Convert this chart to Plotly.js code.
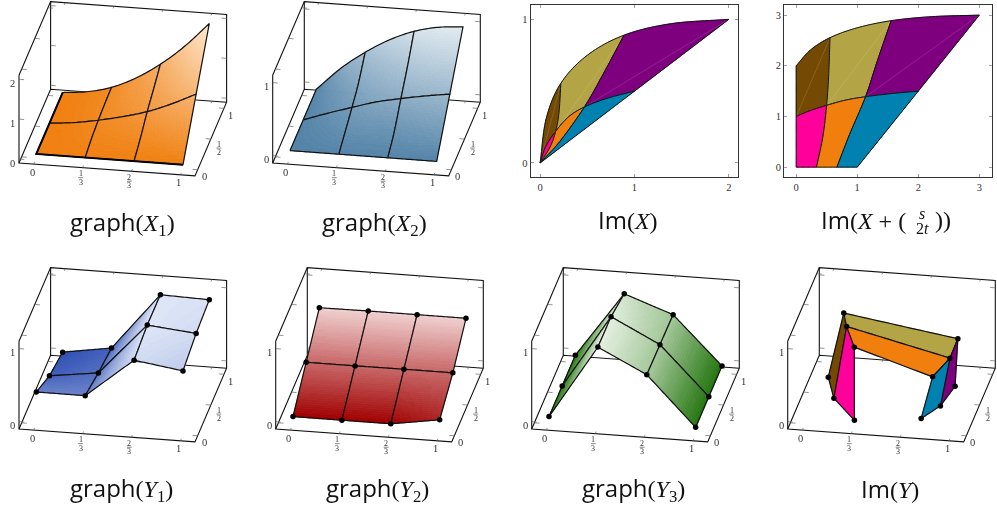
<!DOCTYPE html>
<html>
<head>
<meta charset="utf-8">
<script src="https://cdn.plot.ly/plotly-3.0.1.min.js"></script>
<style>
html, body { margin: 0; background: #fff; }
#chart { width: 997px; height: 506px; }
.annotation, .xtick, .ytick { filter: grayscale(1); }
</style>
</head>
<body>
<div id="chart"></div>
<script>
// grid lines drawn on every patch
const meshS = [0, 1/3, 2/3, 1];
const meshT = [0, 1/2, 1];

// X, rows are t, columns are s
const tableS = [0, 1/6, 1/3, 1/2, 2/3, 5/6, 1];
const tableT = [0, 1/4, 1/2, 3/4, 1];
const x1Rows = [
  [0, 0, 0, 0, 0, 0, 0],
  [0, 0.04, 0.105, 0.15, 0.21, 0.33, 0.5],
  [0, 0.06, 0.165, 0.3, 0.47, 0.71, 1],
  [0, 0.07, 0.2, 0.44, 0.67, 1.05, 1.5],
  [0, 0.065, 0.22, 0.5, 0.89, 1.39, 2],
];
const x2Rows = [
  [0, 0, 0, 0, 0, 0, 0],
  [0, 0.05, 0.11, 0.14, 0.15, 0.2, 0.25],
  [0, 0.115, 0.22, 0.32, 0.39, 0.45, 0.5],
  [0, 0.17, 0.35, 0.5, 0.62, 0.72, 0.75],
  [0, 0.31, 0.555, 0.75, 0.89, 0.97, 1],
];

// Y at the marked nodes
const y1Rows = [
  [0.337, 0.336, 0.87, 0.773],
  [0.139, 0.226, 0.93, 0.865],
  [0.042, 0.147, 0.925, 0.906],
];
const y2Rows = [
  [0, 0, 0, 0.104],
  [0.323, 0.323, 0.326, 0.326],
  [0.65, 0.654, 0.653, 0.653],
];
const y3Rows = [
  [0, 1, 0.672, 0],
  [0, 0.995, 0.663, 0],
  [0, 0.889, 0.653, 0],
];

// patch colours, row t<1/2 then t>1/2
const imageColors = [
  ["#ff009a", "#f17f0d", "#0081b0"],
  ["#744a03", "#b3a445", "#7f007f"],
];

const PAGE_W = 997, PAGE_H = 506;
const PANEL_W = 228, PANEL_H = 183;
const ORIGIN = [19, 163];
const BOX_X = [176, 12.9], BOX_Y = [31.6, -73.7], BOX_Z = 87.7;
const BAND_COUNT = 64, TILES = 24;
const INK = "#111", TICK_INK = "#666", LABEL_INK = "#333";
const SERIF = "Liberation Serif";

const traces = [], annotations = [], shapes = [], axes = {};

function locate(axis, v) {
  let i = 0;
  while (i < axis.length - 2 && v > axis[i + 1]) i++;
  return [i, (v - axis[i]) / (axis[i + 1] - axis[i])];
}

function catmull(a, b, c, d, u) {
  return 0.5 * (2 * b + (c - a) * u + (2 * a - 5 * b + 4 * c - d) * u * u + (3 * b - a - 3 * c + d) * u * u * u);
}

function pick(list, i) {
  if (i < 0) return 2 * list[0] - list[1];
  if (i >= list.length) return 2 * list[list.length - 1] - list[list.length - 2];
  return list[i];
}

function smooth(rows) {
  return (s, t) => {
    const [i, u] = locate(tableS, s);
    const [j, v] = locate(tableT, t);
    const along = [-1, 0, 1, 2].map(k => {
      const row = j + k < 0 ? null : rows[j + k];
      if (row) return catmull(pick(row, i - 1), pick(row, i), pick(row, i + 1), pick(row, i + 2), u);
      return 0;
    });
    if (j + 2 >= rows.length) along[3] = 2 * along[2] - along[1];
    if (j === 0) along[0] = 2 * along[1] - along[2];
    return catmull(along[0], along[1], along[2], along[3], v);
  };
}

function bilinear(rows) {
  return (s, t) => {
    const [i, u] = locate(meshS, s);
    const [j, v] = locate(meshT, t);
    const low = rows[j][i] * (1 - u) + rows[j][i + 1] * u;
    const high = rows[j + 1][i] * (1 - u) + rows[j + 1][i + 1] * u;
    return low * (1 - v) + high * v;
  };
}

const X1 = smooth(x1Rows), X2 = smooth(x2Rows);
const Y1 = bilinear(y1Rows), Y2 = bilinear(y2Rows), Y3 = bilinear(y3Rows);

function projector(zMin, zMax) {
  return (x, y, z) => {
    const fx = (x + 0.1) / 1.2, fy = (y + 0.1) / 1.2, fz = (z - zMin) / (zMax - zMin);
    return [ORIGIN[0] + fx * BOX_X[0] + fy * BOX_Y[0], ORIGIN[1] + fx * BOX_X[1] + fy * BOX_Y[1] - fz * BOX_Z];
  };
}

function polyline(ax, pts, color, width) {
  traces.push({
    x: pts.map(p => p && p[0]), y: pts.map(p => p && p[1]),
    xaxis: "x" + ax, yaxis: "y" + ax, mode: "lines",
    line: { color, width, simplify: false }, hoverinfo: "skip", showlegend: false,
  });
}

function polygons(ax, pts, color) {
  traces.push({
    x: pts.map(p => p && p[0]), y: pts.map(p => p && p[1]),
    xaxis: "x" + ax, yaxis: "y" + ax, mode: "lines", fill: "toself", fillcolor: color,
    line: { color, width: 0.7, simplify: false }, hoverinfo: "skip", showlegend: false,
  });
}

function outline(pos, s0, s1, t0, t1) {
  const pts = [], n = 24;
  for (let i = 0; i <= n; i++) pts.push(pos(s0 + (s1 - s0) * i / n, t0));
  for (let i = 1; i <= n; i++) pts.push(pos(s1, t0 + (t1 - t0) * i / n));
  for (let i = 1; i <= n; i++) pts.push(pos(s1 - (s1 - s0) * i / n, t1));
  for (let i = 1; i <= n; i++) pts.push(pos(s0, t1 - (t1 - t0) * i / n));
  return pts;
}

function mix(a, b, u) {
  return "rgb(" + a.map((c, i) => Math.round(c + (b[i] - c) * u)).join(",") + ")";
}

// one gradient patch, split in colour bands so a band is a single trace
function shadedCell(ax, pos, val, ramp, s0, s1, t0, t1) {
  const bands = {};
  for (let i = 0; i < TILES; i++) {
    for (let j = 0; j < TILES; j++) {
      const a = s0 + (s1 - s0) * i / TILES, b = s0 + (s1 - s0) * (i + 1) / TILES;
      const c = t0 + (t1 - t0) * j / TILES, d = t0 + (t1 - t0) * (j + 1) / TILES;
      const u = Math.min(1, Math.max(0, val((a + b) / 2, (c + d) / 2)));
      const band = Math.min(BAND_COUNT - 1, Math.floor(u * BAND_COUNT));
      (bands[band] = bands[band] || []).push(pos(a, c), pos(b, c), pos(b, d), pos(a, d), pos(a, c), null);
    }
  }
  Object.keys(bands).forEach(k => polygons(ax, bands[k], mix(ramp[0], ramp[1], (+k + 0.5) / BAND_COUNT)));
}

function eachCell(fn) {
  for (let j = meshT.length - 2; j >= 0; j--)
    for (let i = 0; i < meshS.length - 1; i++)
      fn(i, j, meshS[i], meshS[i + 1], meshT[j], meshT[j + 1]);
}

// anchored on the tick itself, plotly drops annotations whose anchor is off range
function label(ax, p, dx, dy, text, size) {
  annotations.push({ xref: "x" + ax, yref: "y" + ax, x: p[0], y: p[1], xshift: dx, yshift: -dy, text, showarrow: false,
    font: { family: SERIF, size: size || 10.5, color: LABEL_INK } });
}

function fraction(ax, p, dx, dy, top, bottom) {
  label(ax, p, dx, dy - 4, top, 8);
  label(ax, p, dx, dy + 4.5, bottom, 8);
  shapes.push({ type: "line", xref: "x" + ax, yref: "y" + ax, x0: p[0] + dx - 2.4, x1: p[0] + dx + 2.4, y0: p[1] + dy, y1: p[1] + dy,
    line: { color: LABEL_INK, width: 0.6 } });
}

function hiddenAxes(ax, left, top) {
  axes["xaxis" + ax] = { domain: [left / PAGE_W, (left + PANEL_W) / PAGE_W], range: [0, PANEL_W], visible: false, fixedrange: true, anchor: "y" + ax };
  axes["yaxis" + ax] = { domain: [1 - (top + PANEL_H) / PAGE_H, 1 - top / PAGE_H], range: [PANEL_H, 0], visible: false, fixedrange: true, anchor: "x" + ax };
}

function box3d(ax, left, top, zMin, zMax, zTicks, lastYLabel = true) {
  hiddenAxes(ax, left, top);
  const P = projector(zMin, zMax);
  const lo = -0.1, hi = 1.1;
  polyline(ax, [
    P(lo, lo, zMax), P(lo, lo, zMin), P(hi, lo, zMin), P(hi, hi, zMin), P(hi, hi, zMax), P(lo, hi, zMax), P(lo, lo, zMax), null,
    P(lo, lo, zMin), P(lo, hi, zMin), P(hi, hi, zMin), null,
    P(lo, hi, zMin), P(lo, hi, zMax),
  ], INK, 1.1);

  const lenXY = 0.035;
  const tick = [];
  const seg = (a, b) => tick.push(a, b, null);
  const ticks = [0, 1/3, 2/3, 1];
  ticks.forEach(v => {
    seg(P(v, lo, zMin), P(v, lo + lenXY, zMin));
    seg(P(v, hi, zMin), P(v, hi - lenXY, zMin));
    seg(P(v, hi, zMax), P(v, hi - lenXY, zMax));
  });
  [0, 1/2, 1].forEach(v => {
    seg(P(lo, v, zMin), P(lo + lenXY, v, zMin));
    seg(P(hi, v, zMin), P(hi - lenXY, v, zMin));
    seg(P(lo, v, zMax), P(lo + lenXY, v, zMax));
  });
  zTicks.forEach(v => {
    seg(P(lo, lo, v), P(lo + lenXY, lo, v));
    seg(P(lo, hi, v), P(lo + lenXY, hi, v));
    seg(P(hi, hi, v), P(hi - lenXY, hi, v));
  });
  polyline(ax, tick, TICK_INK, 0.7);

  label(ax, P(0, lo, zMin), -1.5, 8, "0");
  fraction(ax, P(1/3, lo, zMin), -2, 10, "1", "3");
  fraction(ax, P(2/3, lo, zMin), -2, 10, "2", "3");
  label(ax, P(1, lo, zMin), -1.5, 8, "1");
  label(ax, P(hi, 0, zMin), 6.5, 7, "0");
  fraction(ax, P(hi, 1/2, zMin), 8, 9, "1", "2");
  if (lastYLabel) label(ax, P(hi, 1, zMin), 6.5, 7, "1");
  zTicks.forEach(v => label(ax, P(lo, lo, v), -6.5, 4.3, String(v)));
  return P;
}

function graphPanel(ax, left, top, zFn, zMax, zTicks, ramp, span, heavy) {
  const P = box3d(ax, left, top, -0.1, zMax + 0.1, zTicks);
  const pos = (s, t) => P(s, t, zFn(s, t));
  const val = (s, t) => (zFn(s, t) - span[0]) / (span[1] - span[0]);
  eachCell((i, j, s0, s1, t0, t1) => {
    shadedCell(ax, pos, val, ramp, s0, s1, t0, t1);
    polyline(ax, outline(pos, s0, s1, t0, t1), INK, 1.2);
  });
  if (heavy) {
    polyline(ax, [pos(0, 1), pos(0, 0), pos(1, 0)], "#000", 2);
  }
  return P;
}

function nodes(ax, pos) {
  const x = [], y = [];
  meshT.forEach(t => meshS.forEach(s => { const p = pos(s, t); x.push(p[0]); y.push(p[1]); }));
  traces.push({ x, y, xaxis: "x" + ax, yaxis: "y" + ax, mode: "markers",
    marker: { color: "#000", size: 5.5 }, hoverinfo: "skip", showlegend: false });
}

function imagePanel(ax, left, xRange, yRange, xTicks, yTicks, pos) {
  const box = { showline: true, mirror: "ticks", linecolor: "#333", linewidth: 1, ticks: "inside", ticklen: 3,
    tickcolor: "#777", tickwidth: 0.7, showgrid: false, zeroline: false, fixedrange: true,
    tickfont: { family: SERIF, size: 10.5, color: LABEL_INK } };
  axes["xaxis" + ax] = { ...box, domain: [left / PAGE_W, (left + 207.5) / PAGE_W], range: xRange, tickvals: xTicks, anchor: "y" + ax };
  axes["yaxis" + ax] = { ...box, domain: [1 - 177.3 / PAGE_H, 1 - 5 / PAGE_H], range: yRange, tickvals: yTicks, anchor: "x" + ax };
  eachCell((i, j, s0, s1, t0, t1) => {
    const ring = outline(pos, s0, s1, t0, t1);
    polygons(ax, ring, imageColors[j][i]);
    if (j === 1) polyline(ax, [pos(s0, t0), pos(s1, t1)], "rgba(255,255,255,0.22)", 0.6);
    polyline(ax, ring, INK, 1);
  });
}

function title(cx, cy, text, size, anchor) {
  annotations.push({ xref: "paper", yref: "paper", x: cx / PAGE_W, y: 1 - cy / PAGE_H, text, showarrow: false,
    xanchor: anchor || "center", yanchor: "middle", font: { family: SERIF, size: size || 24, color: "#111" } });
}

const sans = s => `<span style="font-family:'Open Sans'">${s}</span>`;

// top row
graphPanel(1, 0, 0, X1, 2, [0, 1, 2], [[240, 128, 16], [254, 232, 208]], [0, 2], true);
graphPanel(2, 253.7, 0, X2, 1, [0, 1], [[84, 132, 168], [226, 235, 241]], [0, 1], false);
imagePanel(3, 530.7, [-0.1, 2.1], [-0.1, 1.1], [0, 1, 2], [0, 1], (s, t) => [X1(s, t), X2(s, t)]);
imagePanel(4, 784, [-0.2, 3.2], [-0.2, 3.2], [0, 1, 2, 3], [0, 1, 2, 3], (s, t) => [X1(s, t) + s, X2(s, t) + 2 * t]);

// bottom row
const BOTTOM = 266;
graphPanel(5, 0, BOTTOM, Y1, 1, [0, 1], [[38, 72, 176], [222, 230, 247]], [0, 0.93], false);
nodes(5, (() => { const P = projector(-0.1, 1.1); return (s, t) => P(s, t, Y1(s, t)); })());
graphPanel(6, 256.7, BOTTOM, Y2, 1, [0, 1], [[160, 0, 0], [240, 208, 208]], [0, 0.654], false);
nodes(6, (() => { const P = projector(-0.1, 1.1); return (s, t) => P(s, t, Y2(s, t)); })());
graphPanel(7, 512.7, BOTTOM, Y3, 1, [0, 1], [[36, 118, 16], [228, 240, 224]], [0, 1], false);
nodes(7, (() => { const P = projector(-0.1, 1.1); return (s, t) => P(s, t, Y3(s, t)); })());

// the reference loses the y = 1 label of this panel past the page edge
const P8 = box3d(8, 768.7, BOTTOM, -0.1, 1.1, [0, 1], false);
const pos8 = (s, t) => P8(Y1(s, t), Y2(s, t), Y3(s, t));
eachCell((i, j, s0, s1, t0, t1) => {
  const ring = outline(pos8, s0, s1, t0, t1);
  polygons(8, ring, imageColors[j][i]);
  polyline(8, ring, INK, 1.2);
});
nodes(8, pos8);

title(122, 222, `${sans("graph")}(<i>X</i><sub>1</sub>)`);
title(374.5, 222, `${sans("graph")}(<i>X</i><sub>2</sub>)`);
title(628, 220, `${sans("Im")}(<i>X</i>)`);
title(908, 220, `${sans("Im")}(<i>X</i>&nbsp;+&nbsp;(`, 24, "right");
title(922, 213, "<i>s</i>", 16);
title(922, 228, "2<i>t</i>", 16);
title(933, 220, "))", 24, "left");
title(121, 488, `${sans("graph")}(<i>Y</i><sub>1</sub>)`);
title(377, 488, `${sans("graph")}(<i>Y</i><sub>2</sub>)`);
title(633, 488, `${sans("graph")}(<i>Y</i><sub>3</sub>)`);
title(890, 488, `${sans("Im")}(<i>Y</i>)`);

Plotly.newPlot("chart", traces, {
  width: PAGE_W, height: PAGE_H,
  margin: { l: 0, r: 0, t: 0, b: 0 },
  paper_bgcolor: "#fff", plot_bgcolor: "rgba(0,0,0,0)",
  showlegend: false,
  annotations, shapes,
  ...axes,
}, { staticPlot: true });
</script>
</body>
</html>
